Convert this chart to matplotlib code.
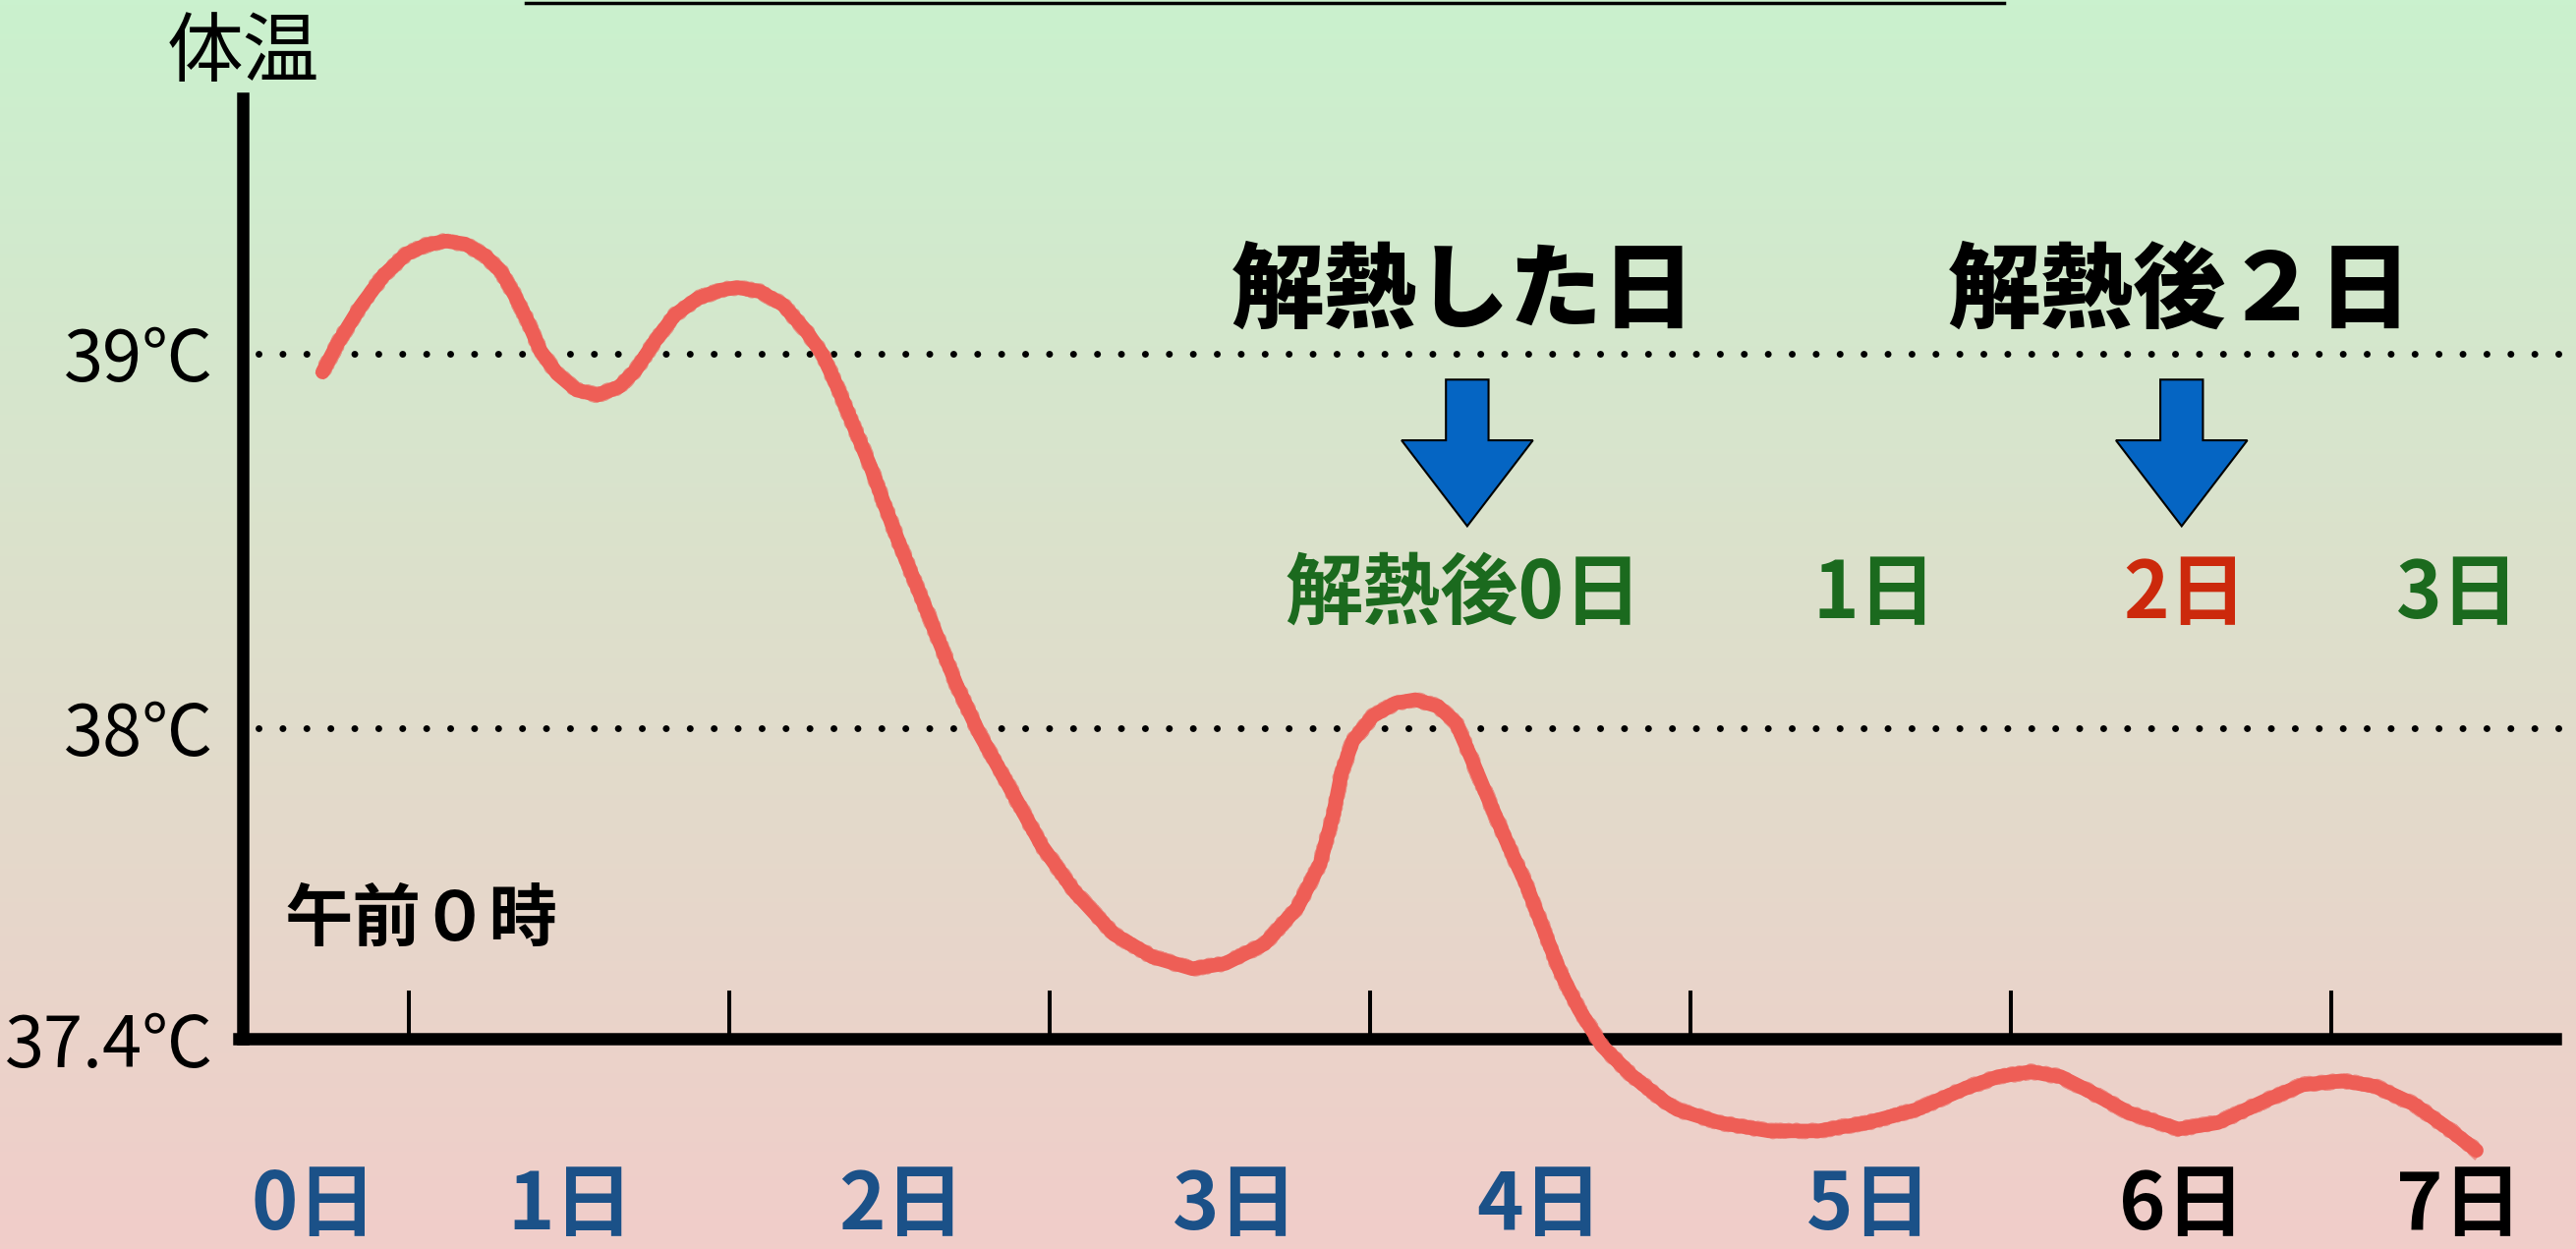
import numpy as np
import matplotlib.pyplot as plt
from matplotlib.patches import FancyArrow

plt.rcParams['font.family'] = ['Noto Sans CJK JP', 'DejaVu Sans']

# x in days (0 = first midnight tick), y in deg C
curve_day = [-0.270, -0.224, -0.152, -0.080, -0.009, 0.053, 0.114, 0.175, 0.237, 0.288,
             0.329, 0.370, 0.410, 0.462, 0.523, 0.589, 0.656, 0.707, 0.768, 0.830,
             0.901, 0.973, 1.024, 1.095, 1.167, 1.239, 1.290, 1.341, 1.392, 1.443,
             1.484, 1.535, 1.627, 1.709, 1.781, 1.873, 1.975, 2.077, 2.200, 2.322,
             2.445, 2.548, 2.670, 2.772, 2.844, 2.885, 2.910, 2.946, 3.008, 3.079,
             3.141, 3.212, 3.268, 3.314, 3.365, 3.427, 3.488, 3.539, 3.591, 3.652,
             3.723, 3.815, 3.918, 3.959, 4.091, 4.245, 4.398, 4.552, 4.705, 4.858,
             4.960, 5.063, 5.155, 5.247, 5.370, 5.523, 5.646, 5.789, 5.911, 6.034,
             6.137, 6.259, 6.361, 6.453]
curve_temp = [38.950, 39.025, 39.125, 39.208, 39.265, 39.289, 39.300, 39.292, 39.261, 39.217,
              39.156, 39.086, 39.007, 38.946, 38.902, 38.889, 38.911, 38.955, 39.033, 39.103,
              39.147, 39.169, 39.176, 39.165, 39.130, 39.060, 38.998, 38.902, 38.797, 38.692,
              38.596, 38.482, 38.290, 38.115, 37.984, 37.844, 37.686, 37.564, 37.450, 37.389,
              37.358, 37.372, 37.424, 37.520, 37.639, 37.770, 37.879, 37.966, 38.032, 38.067,
              38.076, 38.058, 38.014, 37.923, 37.818, 37.695, 37.581, 37.468, 37.354, 37.249,
              37.153, 37.074, 37.004, 36.982, 36.947, 36.925, 36.925, 36.947, 36.982, 37.039,
              37.070, 37.083, 37.070, 37.030, 36.973, 36.930, 36.947, 37.004, 37.048, 37.059,
              37.044, 36.996, 36.934, 36.873]

ytick_vals = [37.171, 38, 39]
ytick_labels = ['37.4℃', '38℃', '39℃']
midnight_ticks = [0, 1, 2, 3, 4, 5, 6]

day_labels = ['0日', '1日', '2日', '3日', '4日', '5日', '6日', '7日']
day_label_x = [-0.297, 0.503, 1.538, 2.579, 3.528, 4.559, 5.533, 6.40]
day_label_colors = ['#1b5188'] * 6 + ['black', 'black']

after_labels = ['解熱後0日', '1日', '2日', '3日']
after_label_x = [3.292, 4.574, 5.544, 6.395]
after_label_colors = ['#1b6a1e', '#1b6a1e', '#cc290c', '#1b6a1e']

headlines = ['解熱した日', '解熱後２日']
headline_x = [3.292, 5.528]
arrow_x = [3.303, 5.533]

xlim = (-1.277, 6.764)
ylim = (36.610, 39.943)

fig = plt.figure(figsize=(26.21, 12.71), dpi=100)
ax = fig.add_axes([0, 0, 1, 1])
ax.set_xlim(*xlim)
ax.set_ylim(*ylim)

# background gradient green -> pink
top = np.array([202, 241, 206]) / 255
bot = np.array([241, 205, 201]) / 255
t = np.linspace(0, 1, 256)[:, None]
grad = (top * (1 - t) + bot * t)[:, None, :]
ax.imshow(grad, extent=[xlim[0], xlim[1], ylim[0], ylim[1]], aspect='auto', zorder=0)

# axes lines
for s in ['top', 'right']:
    ax.spines[s].set_visible(False)
ax.spines['left'].set_position(('data', -0.518))
ax.spines['left'].set_bounds(37.171, 39.68)
ax.spines['bottom'].set_position(('data', 37.171))
ax.spines['bottom'].set_bounds(-0.533, 6.70)
for s in ['left', 'bottom']:
    ax.spines[s].set_linewidth(9)
    ax.spines[s].set_capstyle('projecting')
    ax.spines[s].set_zorder(3)

ax.set_xticks(midnight_ticks)
ax.tick_params(axis='x', direction='in', length=35, width=2.9, color='black', labelbottom=False)
ax.set_yticks(ytick_vals)
ax.set_yticklabels(ytick_labels)
ax.tick_params(axis='y', length=0, pad=22, labelsize=52)

# dotted reference lines
for yv in [38, 39]:
    ax.plot([-0.47, 6.72], [yv, yv], color='black', lw=5,
            linestyle=(0, (0.01, 3.5)), dash_capstyle='round', zorder=2)

# title underline at top edge
ax.plot([0.364, 4.979], [39.936, 39.936], color='black', lw=2.5, clip_on=False, zorder=3)

# temperature curve (crayon-ish)
ax.plot(curve_day, curve_temp, color='#ee5e56', lw=10.5, solid_capstyle='round',
        solid_joinstyle='round', zorder=4)
sk, = ax.plot(curve_day, curve_temp, color='#ee5e56', lw=8, alpha=0.6, zorder=4)
sk.set_sketch_params(scale=3, length=6, randomness=20)

# labels
ax.text(-0.518, 39.798, '体温', ha='center', va='center', fontsize=56)
ax.text(-0.39, 37.487, '午前０時', ha='left', va='center', fontsize=50, fontweight='bold')

for txt, xv in zip(headlines, headline_x):
    ax.text(xv, 39.162, txt, ha='center', va='center', fontsize=68, fontweight='heavy')

for xv in arrow_x:
    arr = FancyArrow(xv, 38.930, 0, -0.391, width=0.133, head_width=0.41,
                     head_length=0.229, length_includes_head=True,
                     facecolor='#0565c3', edgecolor='black', lw=1.5, zorder=5)
    ax.add_patch(arr)

for txt, xv, c in zip(after_labels, after_label_x, after_label_colors):
    ax.text(xv, 38.355, txt, ha='center', va='center', fontsize=57,
            fontweight='bold', color=c)

for txt, xv, c in zip(day_labels, day_label_x, day_label_colors):
    ax.text(xv, 36.725, txt, ha='center', va='center', fontsize=58,
            fontweight='bold', color=c)

fig.savefig('out.png', dpi=100)
